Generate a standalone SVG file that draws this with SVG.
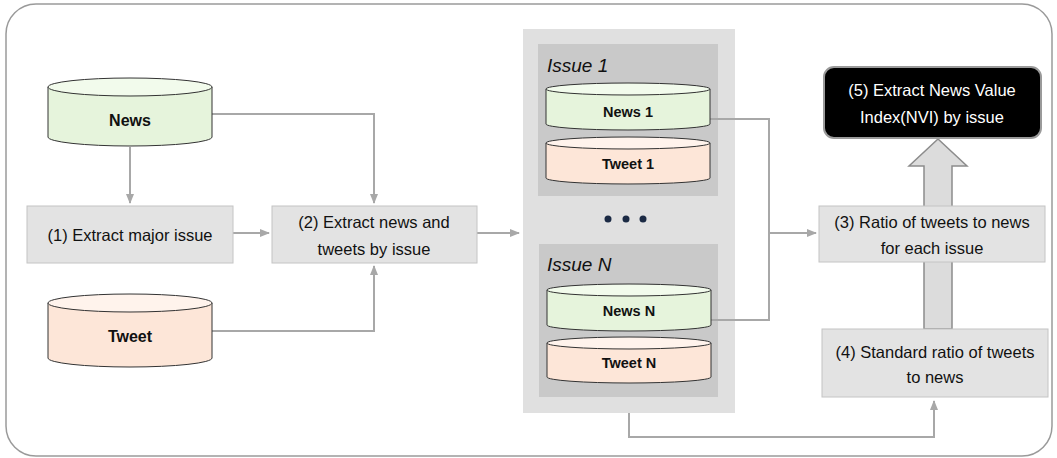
<svg xmlns="http://www.w3.org/2000/svg" width="1057" height="458" viewBox="0 0 1057 458">
  <style>
    .box { fill: #e3e3e3; stroke: #c4c4c4; stroke-width: 1; }
    .lbl { font-family: "Liberation Sans", Arial, sans-serif; font-size: 16.5px; fill: #111; text-anchor: middle; dominant-baseline: central; }
    .db { font-family: "Liberation Sans", Arial, sans-serif; font-weight: bold; fill: #111; text-anchor: middle; dominant-baseline: central; }
    .issue { font-family: "Liberation Sans", Arial, sans-serif; font-style: italic; font-size: 19px; fill: #111; }
    .news-body { fill: #e6f4dc; stroke: #333; stroke-width: 1; }
    .news-top { fill: #f2fbec; stroke: #333; stroke-width: 1; }
    .tweet-body { fill: #fde6d8; stroke: #333; stroke-width: 1; }
    .tweet-top { fill: #fff3ec; stroke: #333; stroke-width: 1; }
    .conn { fill: none; stroke: #a8a8a8; stroke-width: 2; }
  </style>
  <defs>
    <marker id="arr" viewBox="0 0 10 10" refX="9" refY="5" markerWidth="5" markerHeight="5" orient="auto" markerUnits="strokeWidth">
      <path d="M0,1 L10,5 L0,9 Z" fill="#a8a8a8"/>
    </marker>
  </defs>

  <!-- frame -->
  <rect x="6" y="4" width="1046" height="452" rx="30" ry="30" fill="#fff" stroke="#9a9a9a" stroke-width="1.5"/>

  <!-- issue container -->
  <g id="issues">
    <rect x="523" y="29" width="212" height="384" fill="#e0e0e0"/>
    <g id="issue1">
      <rect x="538" y="44" width="180" height="152" fill="#c9c9c9"/>
      <text class="issue" x="547" y="72">Issue 1</text>
    </g>
    <g id="issueN">
      <rect x="539" y="244" width="179" height="153" fill="#c9c9c9"/>
      <text class="issue" x="547" y="271">Issue N</text>
    </g>
    <g id="dots" fill="#1b2a44">
      <circle cx="608" cy="219" r="3.5"/>
      <circle cx="626" cy="219" r="3.5"/>
      <circle cx="643" cy="219" r="3.5"/>
    </g>
  </g>

  <!-- connectors -->
  <g id="connectors">
    <path class="conn" d="M130,147 V203" marker-end="url(#arr)"/>
    <path class="conn" d="M212,114 H374 V203" marker-end="url(#arr)"/>
    <path class="conn" d="M212,331 H374 V266" marker-end="url(#arr)"/>
    <path class="conn" d="M233,233 H269" marker-end="url(#arr)"/>
    <path class="conn" d="M477,233 H519" marker-end="url(#arr)"/>
    <path class="conn" d="M710,119 H769 V320 H711"/>
    <path class="conn" d="M769,233 H816" marker-end="url(#arr)"/>
    <path class="conn" d="M629,413 V437 H934 V401" marker-end="url(#arr)"/>
    <!-- block arrow from (4) up to (5) -->
    <path d="M924,329 V166 H909 L938,139 L967,166 H952 V329 Z" fill="#dcdcdc" stroke="#8c8c8c" stroke-width="1.5"/>
  </g>

  <g id="news">
    <path class="news-body" d="M48,87 V137 A82,9 0 0 0 212,137 V87 Z"/>
    <ellipse class="news-top" cx="130" cy="87" rx="82" ry="9"/>
    <text class="db" x="130" y="120" font-size="16">News</text>
  </g>

  <g id="tweet">
    <path class="tweet-body" d="M48,303 V358 A82,9 0 0 0 212,358 V303 Z"/>
    <ellipse class="tweet-top" cx="130" cy="303" rx="82" ry="9"/>
    <text class="db" x="130" y="336" font-size="16">Tweet</text>
  </g>

  <g id="news1">
    <path class="news-body" d="M546,89 V124 A82,6 0 0 0 710,124 V89 Z"/>
    <ellipse class="news-top" cx="628" cy="89" rx="82" ry="6"/>
    <text class="db" x="628" y="112" font-size="14.5">News 1</text>
  </g>
  <g id="tweet1">
    <path class="tweet-body" d="M546,143 V178 A82,6 0 0 0 710,178 V143 Z"/>
    <ellipse class="tweet-top" cx="628" cy="143" rx="82" ry="6"/>
    <text class="db" x="628" y="164" font-size="14.5">Tweet 1</text>
  </g>
  <g id="newsN">
    <path class="news-body" d="M547,290 V325 A82,6 0 0 0 711,325 V290 Z"/>
    <ellipse class="news-top" cx="629" cy="290" rx="82" ry="6"/>
    <text class="db" x="629" y="311" font-size="14.5">News N</text>
  </g>
  <g id="tweetN">
    <path class="tweet-body" d="M547,343 V377 A82,6 0 0 0 711,377 V343 Z"/>
    <ellipse class="tweet-top" cx="629" cy="343" rx="82" ry="6"/>
    <text class="db" x="629" y="363" font-size="14.5">Tweet N</text>
  </g>

  <g id="step1">
    <rect class="box" x="27" y="206" width="206" height="57"/>
    <text class="lbl" x="130" y="235">(1) Extract major issue</text>
  </g>

  <g id="step2">
    <rect class="box" x="272" y="206" width="205" height="57"/>
    <text class="lbl" x="374" y="222">(2) Extract news and</text>
    <text class="lbl" x="374" y="249">tweets by issue</text>
  </g>

  <g id="step3">
    <rect class="box" x="819" y="206" width="226" height="56"/>
    <text class="lbl" x="932" y="222">(3) Ratio of tweets to news</text>
    <text class="lbl" x="932" y="248">for each issue</text>
  </g>

  <g id="step4">
    <rect class="box" x="822" y="329" width="226" height="68"/>
    <text class="lbl" x="935" y="352">(4) Standard ratio of tweets</text>
    <text class="lbl" x="935" y="377">to news</text>
  </g>

  <g id="step5">
    <rect x="824" y="67" width="217" height="71" rx="10" ry="10" fill="#000" stroke="#9a9a9a" stroke-width="2"/>
    <text class="lbl" x="932" y="90" style="fill:#fff">(5) Extract News Value</text>
    <text class="lbl" x="932" y="117" style="fill:#fff">Index(NVI) by issue</text>
  </g>
</svg>
